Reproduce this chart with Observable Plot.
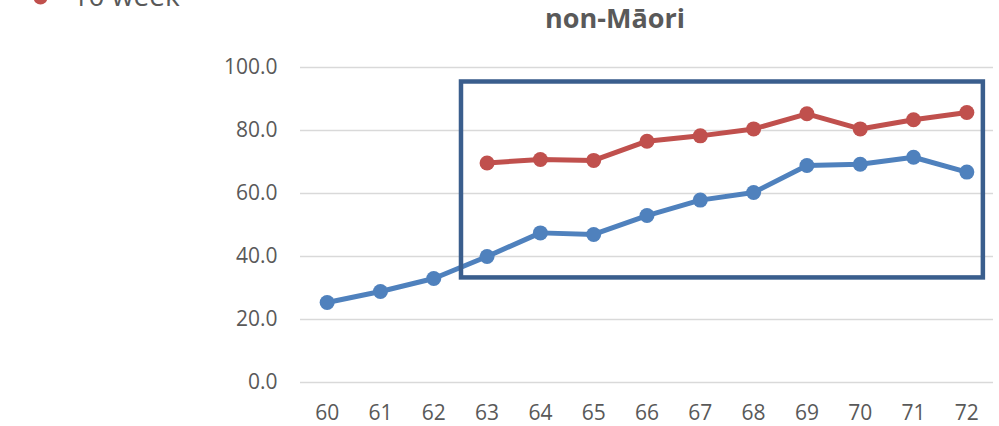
<!DOCTYPE html>
<html>
<head>
<meta charset="utf-8">
<script src="https://cdn.jsdelivr.net/npm/d3@7"></script>
<script src="https://cdn.jsdelivr.net/npm/@observablehq/plot@0.6"></script>
<style>
  html, body { margin: 0; padding: 0; background: #fff; overflow: hidden; }
  svg { display: block; }
</style>
</head>
<body>
<div id="chart"></div>
<script>
const ages = [60, 61, 62, 63, 64, 65, 66, 67, 68, 69, 70, 71, 72];
const blueSeries = [25.4, 28.9, 33.0, 40.0, 47.5, 47.0, 53.0, 57.9, 60.3, 68.9, 69.3, 71.5, 66.8];
const redAges = [63, 64, 65, 66, 67, 68, 69, 70, 71, 72];
const redSeries = [69.7, 70.8, 70.5, 76.6, 78.3, 80.5, 85.3, 80.5, 83.4, 85.7];
const yTicks = [0, 20, 40, 60, 80, 100];
const titleText = "non-Māori";
const legendLabel = "10 week";
const highlightBox = [{x1: 62.52, x2: 72.31, y1: 33.2, y2: 95.4}];

const blue = ages.map((a, i) => ({age: a, value: blueSeries[i]}));
const red = redAges.map((a, i) => ({age: a, value: redSeries[i]}));

const BLUE = "#4F81BD", RED = "#C0504D", BOX = "#3A5E8D", TXT = "#595959";
const font = "Open Sans";

const chart = Plot.plot({
  width: 999,
  height: 426,
  marginLeft: 300,
  marginRight: 6,
  marginTop: 67,
  marginBottom: 44,
  style: {fontFamily: font, fontSize: "21px", color: TXT, background: "#fff", overflow: "visible"},
  x: {domain: [59.5, 72.5], ticks: ages, tickFormat: d => String(d)},
  y: {domain: [0, 100], ticks: yTicks, tickFormat: d => d.toFixed(1)},
  marks: [
    Plot.ruleY(yTicks, {stroke: "#d9d9d9", strokeWidth: 1.6}),
    Plot.axisY({ticks: yTicks, tickSize: 0, tickPadding: 23, tickFormat: d => d.toFixed(1), fill: TXT, label: null}),
    Plot.axisX({ticks: ages, tickSize: 0, tickPadding: 23, tickFormat: d => String(d), fill: TXT, label: null}),
    Plot.line(blue, {x: "age", y: "value", stroke: BLUE, strokeWidth: 5}),
    Plot.dot(blue, {x: "age", y: "value", fill: BLUE, r: 7.5}),
    Plot.line(red, {x: "age", y: "value", stroke: RED, strokeWidth: 5}),
    Plot.dot(red, {x: "age", y: "value", fill: RED, r: 7.5}),
    Plot.rect(highlightBox, {x1: "x1", x2: "x2", y1: "y1", y2: "y2", fill: "none", stroke: BOX, strokeWidth: 4.5}),
    Plot.text([titleText], {text: d => d, frameAnchor: "top", dx: -32, dy: -40, lineAnchor: "bottom", fontWeight: "bold", fontSize: 27, fill: TXT}),
    Plot.dot([legendLabel], {frameAnchor: "top-left", dx: -260, dy: -70, r: 7, fill: RED}),
    Plot.text([legendLabel], {text: d => d, frameAnchor: "top-left", dx: -228, dy: -62, lineAnchor: "bottom", textAnchor: "start", fontSize: 28, fill: TXT})
  ]
});
document.getElementById("chart").appendChild(chart);
</script>
</body>
</html>
